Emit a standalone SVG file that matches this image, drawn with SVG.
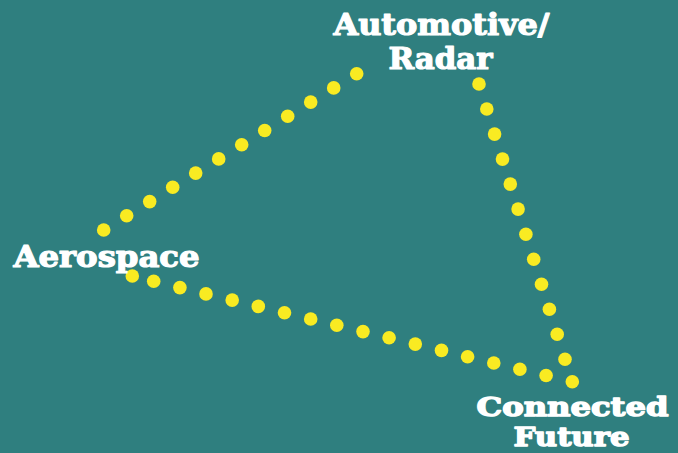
<svg xmlns="http://www.w3.org/2000/svg" width="678" height="453" viewBox="0 0 678 453">
<style>
.bg{fill:#2f7f7f}
.d{fill:#f9eb22}
.t{font-family:"DejaVu Serif","Liberation Serif",serif;font-weight:bold;font-size:29px;fill:#ffffff;stroke:#ffffff;stroke-width:1.2px;stroke-linejoin:round}
.s{font-size:26px;stroke-width:1.4px}
</style>
<rect class="bg" x="0" y="0" width="678" height="453"/>
<g id="connectors">
<g id="edge-aero-auto">
<circle class="d" cx="103.7" cy="230" r="6.8"/>
<circle class="d" cx="126.7" cy="215.8" r="6.8"/>
<circle class="d" cx="149.7" cy="201.6" r="6.8"/>
<circle class="d" cx="172.7" cy="187.3" r="6.8"/>
<circle class="d" cx="195.7" cy="173.1" r="6.8"/>
<circle class="d" cx="218.7" cy="158.9" r="6.8"/>
<circle class="d" cx="241.7" cy="144.7" r="6.8"/>
<circle class="d" cx="264.7" cy="130.5" r="6.8"/>
<circle class="d" cx="287.7" cy="116.3" r="6.8"/>
<circle class="d" cx="310.7" cy="102.1" r="6.8"/>
<circle class="d" cx="333.7" cy="87.9" r="6.8"/>
<circle class="d" cx="356.7" cy="73.7" r="6.8"/>
</g>
<g id="edge-auto-conn">
<circle class="d" cx="479" cy="84" r="6.8"/>
<circle class="d" cx="486.8" cy="109" r="6.8"/>
<circle class="d" cx="494.6" cy="134.1" r="6.8"/>
<circle class="d" cx="502.5" cy="159.1" r="6.8"/>
<circle class="d" cx="510.3" cy="184.1" r="6.8"/>
<circle class="d" cx="518.1" cy="209.1" r="6.8"/>
<circle class="d" cx="525.9" cy="234.2" r="6.8"/>
<circle class="d" cx="533.7" cy="259.2" r="6.8"/>
<circle class="d" cx="541.5" cy="284.2" r="6.8"/>
<circle class="d" cx="549.4" cy="309.3" r="6.8"/>
<circle class="d" cx="557.2" cy="334.3" r="6.8"/>
<circle class="d" cx="565" cy="359.3" r="6.8"/>
</g>
<g id="edge-aero-conn">
<circle class="d" cx="132.3" cy="276" r="6.8"/>
<circle class="d" cx="153.7" cy="281.3" r="6.8"/>
<circle class="d" cx="179.9" cy="287.6" r="6.8"/>
<circle class="d" cx="206" cy="293.9" r="6.8"/>
<circle class="d" cx="232.2" cy="300.1" r="6.8"/>
<circle class="d" cx="258.3" cy="306.4" r="6.8"/>
<circle class="d" cx="284.5" cy="312.7" r="6.8"/>
<circle class="d" cx="310.7" cy="319" r="6.8"/>
<circle class="d" cx="336.8" cy="325.3" r="6.8"/>
<circle class="d" cx="363" cy="331.6" r="6.8"/>
<circle class="d" cx="389.1" cy="337.8" r="6.8"/>
<circle class="d" cx="415.3" cy="344.1" r="6.8"/>
<circle class="d" cx="441.5" cy="350.4" r="6.8"/>
<circle class="d" cx="467.6" cy="356.7" r="6.8"/>
<circle class="d" cx="493.8" cy="363" r="6.8"/>
<circle class="d" cx="519.9" cy="369.3" r="6.8"/>
<circle class="d" cx="546.1" cy="375.5" r="6.8"/>
<circle class="d" cx="572.3" cy="381.7" r="6.8"/>
</g>
</g>
<g id="node-automotive">
<text class="t" x="333.5" y="35" textLength="216" lengthAdjust="spacingAndGlyphs">Automotive/</text>
<text class="t" x="388.5" y="69" textLength="104" lengthAdjust="spacingAndGlyphs">Radar</text>
</g>
<g id="node-aerospace">
<text class="t" x="13.5" y="266.5" textLength="186" lengthAdjust="spacingAndGlyphs">Aerospace</text>
</g>
<g id="node-connected">
<text class="t s" x="476.5" y="416" textLength="192" lengthAdjust="spacingAndGlyphs">Connected</text>
<text class="t s" x="513.5" y="446" textLength="116" lengthAdjust="spacingAndGlyphs">Future</text>
</g>
</svg>
